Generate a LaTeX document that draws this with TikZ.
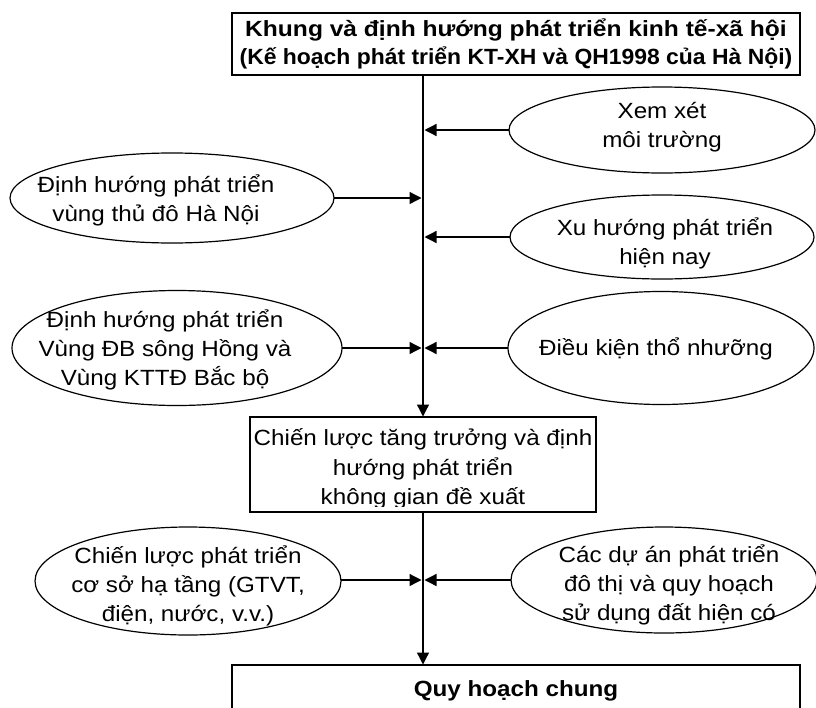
\documentclass[tikz,border=0pt]{standalone}
\usepackage{fontspec}
\setmainfont{Liberation Sans}[FakeStretch=1.1]
\usetikzlibrary{shapes.geometric,arrows.meta}

\begin{document}
\begin{tikzpicture}[x=1pt,y=-1pt,
  every node/.style={inner sep=0pt, outer sep=0pt},
  lbl/.style={font=\fontsize{22}{29}\selectfont, align=center},
  hdr/.style={font=\fontsize{22}{28}\selectfont\bfseries, align=center},
  oval/.style={draw, ellipse, line width=1.2pt},
  boxx/.style={draw, rectangle, line width=1.3pt},
  link/.style={line width=1.3pt, -{Triangle[length=12pt,width=12pt]}, shorten >=0.5pt}]

\path[use as bounding box, fill=white] (0,0) rectangle (816,707);

% header box
\node[boxx, minimum width=568pt, minimum height=62pt] (top) at (516,44) {};
\node[hdr] (toptext) at (516,44) {\scalebox{1.015}[1]{Khung và định hướng phát triển kinh tế-xã hội}\\\scalebox{0.947}[1]{(Kế hoạch phát triển KT-XH và QH1998 của Hà Nội)}};

% middle box; its text is cut off by the inner margin of the frame
\node[boxx, minimum width=346pt, minimum height=95pt] (mid) at (423,464.5) {};
\begin{scope}
  \clip ([yshift=6pt]mid.south west) rectangle (mid.north east);
  \node[lbl, font=\fontsize{22}{29.5}\selectfont] (midtext) at (423,469) {Chiến lược tăng trưởng và định\\hướng phát triển\\không gian đề xuất};
\end{scope}

% bottom box, running off the lower edge
\node[boxx, minimum width=568pt, minimum height=70pt] (bot) at (516,700) {};
\node[hdr] (bottext) at (516,691) {Quy hoạch chung};

% ovals
\node[oval, minimum width=306pt, minimum height=86pt] (e1) at (662,130) {};
\node[lbl] (t1) at (662,127) {Xem xét\\môi trường};

\node[oval, minimum width=324pt, minimum height=90pt] (e2) at (172,198) {};
\node[lbl] (t2) at (156,200) {Định hướng phát triển\\vùng thủ đô Hà Nội};

\node[oval, minimum width=304pt, minimum height=84pt] (e3) at (662,237) {};
\node[lbl] (t3) at (665,243) {Xu hướng phát triển\\hiện nay};

\node[oval, minimum width=330pt, minimum height=115pt] (e4) at (177,348) {};
\node[lbl] (t4) at (165,350) {Định hướng phát triển\\Vùng ĐB sông Hồng và\\Vùng KTTĐ Bắc bộ};

\node[oval, minimum width=306pt, minimum height=113pt] (e5) at (661,348) {};
\node[lbl] (t5) at (656,349) {Điều kiện thổ nhưỡng};

\node[oval, minimum width=306pt, minimum height=108pt] (e6) at (188,581) {};
\node[lbl] (t6) at (188,586) {Chiến lược phát triển\\cơ sở hạ tầng (GTVT,\\điện, nước, v.v.)};

\node[oval, minimum width=306pt, minimum height=106pt] (e7) at (664,580) {};
\node[lbl] (t7) at (669,585) {Các dự án phát triển\\đô thị và quy hoạch\\sử dụng đất hiện có};

% junction points on the main trunk
\coordinate (j1) at (423,130);
\coordinate (j2) at (423,198);
\coordinate (j3) at (423,237);
\coordinate (j4) at (423,348);
\coordinate (j6) at (423,580);

% trunk
\draw[link] (top.south -| mid.north) -- (mid.north);
\draw[link] (mid.south) -- (bot.north -| mid.south);

% side inputs
\draw[link, shorten >=1.5pt] (e1.west) -- (j1);
\draw[link, shorten >=1.5pt] (e2.east) -- (j2);
\draw[link, shorten >=1.5pt] (e3.west) -- (j3);
\draw[link, shorten >=1.5pt] (e4.east) -- (j4);
\draw[link, shorten >=1.5pt] (e5.west) -- (j4);
\draw[link, shorten >=1.5pt] (e6.east |- j6) -- (j6);
\draw[link, shorten >=1.5pt] (e7.west |- j6) -- (j6);
\end{tikzpicture}
\end{document}
